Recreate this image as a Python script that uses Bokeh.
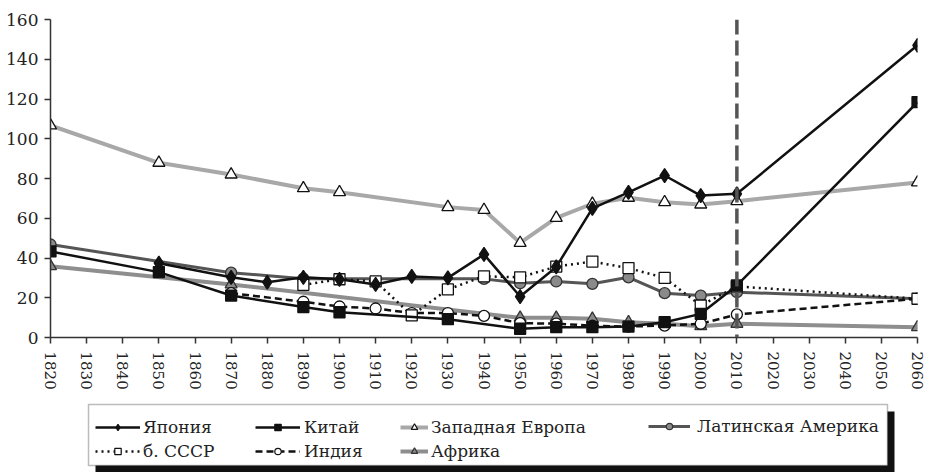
from bokeh.plotting import figure
from bokeh.models import Range1d, FixedTicker, Span, Legend, LegendItem, BoxAnnotation, ColumnDataSource
from bokeh.layouts import column
from bokeh.embed import file_html
from bokeh.resources import INLINE

# ---------------- data ----------------
tick_years = [1820, 1830, 1840, 1850, 1860, 1870, 1880, 1890, 1900, 1910, 1920, 1930, 1940,
              1950, 1960, 1970, 1980, 1990, 2000, 2010, 2020, 2030, 2040, 2050, 2060]
y_ticks = [0, 20, 40, 60, 80, 100, 120, 140, 160]
forecast_year = 2010

japan_years = [1850, 1870, 1880, 1890, 1900, 1910, 1920, 1930, 1940, 1950, 1960, 1970, 1980, 1990, 2000, 2010, 2060]
japan_vals = [37.4, 30.3, 27.8, 30.3, 29.3, 26.7, 30.7, 30.0, 41.8, 20.6, 35.5, 65.0, 73.0, 81.5, 71.4, 72.3, 147.0]

china_years = [1820, 1850, 1870, 1890, 1900, 1930, 1950, 1960, 1970, 1980, 1990, 2000, 2010, 2060]
china_vals = [43.3, 32.9, 21.1, 15.3, 12.7, 9.2, 4.4, 5.2, 5.2, 5.5, 7.7, 11.9, 26.2, 118.4]

weurope_years = [1820, 1850, 1870, 1890, 1900, 1930, 1940, 1950, 1960, 1970, 1980, 1990, 2000, 2010, 2060]
weurope_vals = [106.7, 87.9, 82.0, 75.1, 73.1, 65.6, 64.2, 47.6, 60.2, 67.3, 70.3, 68.1, 66.9, 68.6, 78.0]

latam_years = [1820, 1870, 1890, 1940, 1950, 1960, 1970, 1980, 1990, 2000, 2010, 2060]
latam_vals = [46.8, 32.6, 29.6, 29.5, 27.3, 28.2, 27.0, 30.3, 22.3, 21.1, 22.8, 19.5]

ussr_years = [1890, 1900, 1910, 1920, 1930, 1940, 1950, 1960, 1970, 1980, 1990, 2000, 2010, 2060]
ussr_vals = [26.5, 29.3, 28.2, 11.1, 24.2, 30.8, 30.3, 35.7, 38.2, 34.9, 30.0, 16.1, 25.7, 19.5]

india_years = [1870, 1890, 1900, 1910, 1920, 1930, 1940, 1950, 1960, 1970, 1980, 1990, 2000, 2010, 2060]
india_vals = [22.3, 18.0, 15.6, 14.6, 12.3, 12.3, 10.9, 7.2, 7.0, 5.9, 5.5, 6.0, 6.9, 11.6, 19.5]

africa_years = [1820, 1870, 1950, 1960, 1970, 1980, 1990, 2000, 2010, 2060]
africa_vals = [35.9, 26.7, 9.9, 9.9, 9.4, 7.7, 6.9, 5.7, 6.9, 5.2]

FONT = "DejaVu Serif"

# name, years, vals, line color, line width, dash, marker, marker size, fill, outline
series = [
    ("Западная Европа", weurope_years, weurope_vals, "#a8a8a8", 4, "solid", "triangle", 12, "white", "#111111"),
    ("Африка", africa_years, africa_vals, "#8e8e8e", 4, "solid", "triangle", 12, "#8a8a8a", "#333333"),
    ("Латинская Америка", latam_years, latam_vals, "#555555", 3, "solid", "circle", 11, "#8a8a8a", "#333333"),
    ("Индия", india_years, india_vals, "#111111", 2.5, "7 4", "circle", 11, "white", "#111111"),
    ("б. СССР", ussr_years, ussr_vals, "#111111", 2.5, "2 4", "square", 11, "white", "#111111"),
    ("Китай", china_years, china_vals, "#111111", 2.5, "solid", "square", 11, "#111111", "#111111"),
    ("Япония", japan_years, japan_vals, "#111111", 2.5, "solid", "diamond", 14, "#111111", "#111111"),
]

# ---------------- main chart ----------------
W = 927
FL, FR = 50, 917   # frame left / right, page pixels
p = figure(width=W, height=400, output_backend="svg", toolbar_location=None,
           x_range=Range1d(1820, 2060), y_range=Range1d(0, 160),
           min_border_left=FL, min_border_right=W - FR, min_border_top=19, min_border_bottom=63)
p.outline_line_color = None
p.xgrid.visible = False
p.ygrid.visible = False
p.background_fill_color = "white"

for name, xs, ys, lc, lw, dash, mk, ms, fc, oc in series:
    src = ColumnDataSource(dict(x=xs, y=ys))
    p.line("x", "y", source=src, line_color=lc, line_width=lw, line_dash=dash)
    p.scatter("x", "y", source=src, marker=mk, size=ms, fill_color=fc, line_color=oc, line_width=1.3)

p.add_layout(Span(location=forecast_year, dimension="height", line_color="#555555",
                  line_width=3.5, line_dash="15 6"))

for ax in (p.xaxis[0], p.yaxis[0]):
    ax.axis_line_color = "#333333"
    ax.axis_line_width = 1.5
    ax.major_tick_line_color = "#333333"
    ax.major_tick_line_width = 1.5
    ax.major_tick_out = 6
    ax.major_tick_in = 0
    ax.minor_tick_line_color = None
    ax.major_label_text_font = FONT
    ax.major_label_text_color = "#222222"

p.xaxis.ticker = FixedTicker(ticks=tick_years)
p.xaxis.major_label_orientation = "vertical"
p.xaxis.major_label_text_font_size = "15px"
p.xaxis.major_label_standoff = 8
p.yaxis.ticker = FixedTicker(ticks=y_ticks)
p.yaxis.major_label_text_font_size = "17px"
p.yaxis.major_label_standoff = 6

# ---------------- legend panel ----------------
LH = 72
lg = figure(width=W, height=LH, output_backend="svg", toolbar_location=None,
            x_range=Range1d(FL, FR), y_range=Range1d(0, LH),
            x_axis_location=None, y_axis_location=None,
            min_border_left=FL, min_border_right=W - FR, min_border_top=0, min_border_bottom=0)
lg.xgrid.visible = False
lg.ygrid.visible = False
lg.outline_line_color = None

# x here = page x; y counts up from the bottom of the panel (page y = 472 - y)
lg.add_layout(BoxAnnotation(left=95, right=894, top=61, bottom=-2, fill_color="#111111",
                            fill_alpha=1, line_color=None))
lg.add_layout(BoxAnnotation(left=88, right=887, top=68, bottom=7, fill_color="white",
                            fill_alpha=1, line_color="#222222", line_width=1.5))

items = {}
for name, xs, ys, lc, lw, dash, mk, ms, fc, oc in series:
    src = ColumnDataSource(dict(x=[-1000], y=[-1000]))
    r1 = lg.line("x", "y", source=src, line_color=lc, line_width=lw, line_dash=dash)
    r2 = lg.scatter("x", "y", source=src, marker=mk, size=max(ms - 3, 8), fill_color=fc,
                    line_color=oc, line_width=1.2)
    items[name] = LegendItem(label=name, renderers=[r1, r2])

ITEM_H = 21
SPACING = 4
# (labels, glyph left page x, glyph width, standoff)
cols = [
    (["Япония", "б. СССР"], 95, 45, 3),
    (["Китай", "Индия"], 255, 45, 4),
    (["Западная Европа", "Африка"], 400, 28, 3),
    (["Латинская Америка"], 648, 42, 7),
]
for names, x0, gw, so in cols:
    n = len(names)
    h = ITEM_H * n + SPACING * (n - 1)
    top_from_top = 25 - ITEM_H / 2
    loc_y = LH - (top_from_top + h)
    leg = Legend(items=[items[nm] for nm in names], location=(x0 - FL, loc_y),
                 orientation="vertical", padding=0, margin=0, spacing=SPACING,
                 glyph_width=gw, glyph_height=16, label_height=16, label_standoff=so,
                 label_text_font=FONT, label_text_font_size="17px", label_text_color="#222222",
                 border_line_color=None, background_fill_alpha=0)
    lg.add_layout(leg)

layout = column(p, lg, spacing=0)

open("out.html", "w").write(file_html(layout, INLINE))
